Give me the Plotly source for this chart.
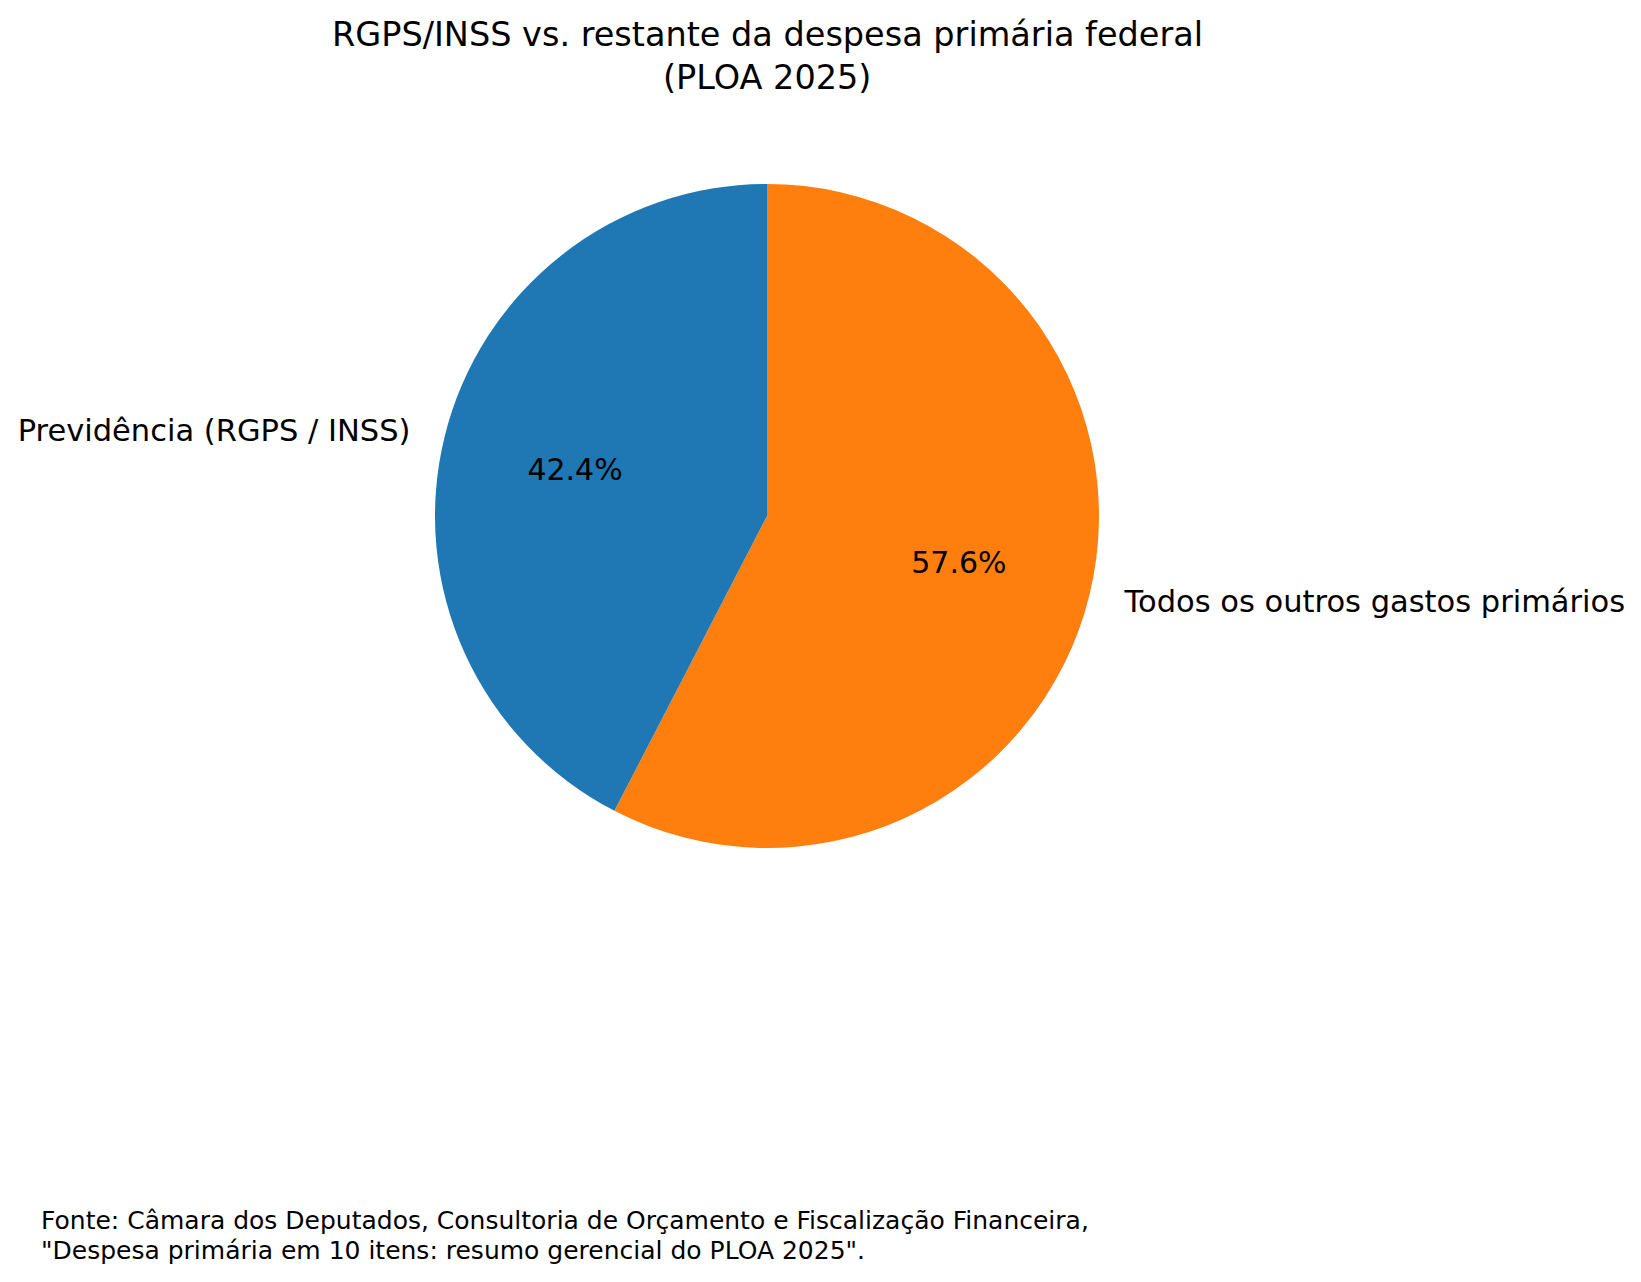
import plotly.graph_objects as go

labels = ["Previdência (RGPS / INSS)", "Todos os outros gastos primários"]
values = [42.4, 57.6]
colors = ["#1f77b4", "#ff7f0e"]
title_lines = ["RGPS/INSS vs. restante da despesa primária federal", "(PLOA 2025)"]
source_lines = ["Fonte: Câmara dos Deputados, Consultoria de Orçamento e Fiscalização Financeira,",
                "\"Despesa primária em 10 itens: resumo gerencial do PLOA 2025\"."]

W, H = 1641, 1282
FONT = "DejaVu Sans"

# pie centre / radius in pixels
cx, cy, R = 767, 516, 332
R_lab = 358  # radius used to place outside labels (like matplotlib labeldistance=1.1)


def dom(r):
    return dict(x=[(cx - r) / W, (cx + r) / W], y=[1 - (cy + r) / H, 1 - (cy - r) / H])


# drawn clockwise from 12 o'clock in reversed order == matplotlib counterclockwise from 90 deg
lab_r, val_r, col_r = labels[::-1], values[::-1], colors[::-1]
clear = ["rgba(0,0,0,0)"] * len(values)

fig = go.Figure()
# coloured wedges
fig.add_trace(go.Pie(
    labels=lab_r, values=val_r, sort=False, direction="clockwise", rotation=0,
    marker=dict(colors=col_r, line=dict(width=0)), textinfo="none",
    domain=dom(R), showlegend=False, hoverinfo="skip", automargin=False,
))
# percentages (ring so that text sits around 0.6 r)
fig.add_trace(go.Pie(
    labels=lab_r, values=val_r, sort=False, direction="clockwise", rotation=0, hole=0.19,
    marker=dict(colors=clear, line=dict(width=0)),
    texttemplate="%{percent:.1%}", textposition="inside", insidetextorientation="horizontal",
    textfont=dict(family=FONT, size=30, color="black"),
    domain=dom(R), showlegend=False, hoverinfo="skip", automargin=False,
))
# outside category labels
fig.add_trace(go.Pie(
    labels=lab_r, values=val_r, sort=False, direction="clockwise", rotation=0,
    marker=dict(colors=clear, line=dict(width=0)),
    texttemplate="%{label}", textposition="outside",
    textfont=dict(family=FONT, size=30.5, color="black"),
    domain=dom(R_lab), showlegend=False, hoverinfo="skip", automargin=False,
))

annos = []
for t, yy in zip(title_lines, [35, 77]):
    annos.append(dict(text=t, xref="paper", yref="paper", x=cx / W, y=1 - yy / H,
                      xanchor="center", yanchor="middle", showarrow=False,
                      font=dict(family=FONT, size=33.5, color="black")))
for t, yy in zip(source_lines, [1220, 1250]):
    annos.append(dict(text=t, xref="paper", yref="paper", x=39 / W, y=1 - yy / H,
                      xanchor="left", yanchor="middle", showarrow=False,
                      font=dict(family=FONT, size=25, color="black")))

fig.update_layout(
    width=W, height=H, autosize=False,
    margin=dict(l=0, r=0, t=0, b=0, autoexpand=False),
    paper_bgcolor="white", plot_bgcolor="white",
    annotations=annos,
)
fig.write_html("out.html")
